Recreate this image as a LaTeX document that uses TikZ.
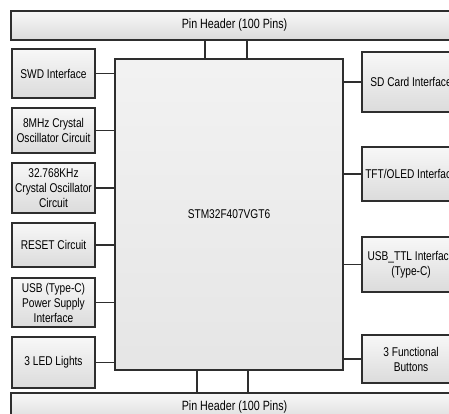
\documentclass[tikz,border=0pt]{standalone}
\usepackage{fontspec}
\setmainfont[FakeStretch=0.8]{Liberation Sans}
\usetikzlibrary{shadows}
\begin{document}
\begin{tikzpicture}[x=1pt, y=-1pt,
        block/.style={draw=black!82, line width=1.3pt, top color=white!97!black, bottom color=white!86!black,
            align=center, anchor=north west, inner sep=2pt, outer sep=0pt,
            font=\fontsize{12.7}{15}\selectfont,
            drop shadow={shadow xshift=0.8pt, shadow yshift=-0.8pt, opacity=0.35, fill=black}},
        wire/.style={draw=black!82, line width=1.2pt}]
        \useasboundingbox (0,0) rectangle (449,414);
        \fill[white] (0,0) rectangle (449,414);
        \clip (0,0) rectangle (449,414);

        % Nodes
        \node[block, minimum width=447, minimum height=29, font=\fontsize{13.4}{15}\selectfont] (toppins) at (11,11) {Pin Header (100 Pins)};
        \node[block, minimum width=447, minimum height=29, font=\fontsize{13.4}{15}\selectfont] (botpins) at (11,393) {Pin Header (100 Pins)};
        \node[block, minimum width=228, minimum height=311, top color=white!95!black, bottom color=white!90!black] (chip) at (115,59) {STM32F407VGT6};

        \node[block, minimum width=83, minimum height=49] (swd) at (12,49) {SWD Interface};
        \node[block, minimum width=83, minimum height=45] (xtal8) at (12,108) {8MHz Crystal\\Oscillator Circuit};
        \node[block, minimum width=83, minimum height=50] (xtal32) at (12,163) {32.768KHz\\Crystal Oscillator\\Circuit};
        \node[block, minimum width=83, minimum height=44] (reset) at (12,223) {RESET Circuit};
        \node[block, minimum width=83, minimum height=49] (usbpwr) at (12,278) {USB (Type-C)\\Power Supply\\Interface};
        \node[block, minimum width=83, minimum height=51] (leds) at (12,337) {3 LED Lights};

        \node[block, minimum width=98, minimum height=60] (sdcard) at (362,52) {SD Card Interface};
        \node[block, minimum width=98, minimum height=54] (tft) at (362,147) {TFT/OLED Interface};
        \node[block, minimum width=98, minimum height=55] (usbttl) at (362,237) {USB\_TTL Interface\\(Type-C)};
        \node[block, minimum width=98, minimum height=48] (keys) at (362,335) {3 Functional\\Buttons};

        % Edges
        \draw[wire] ([xshift=-24pt]chip.north) -- ([xshift=-24pt]chip.north |- toppins.south);
        \draw[wire] ([xshift=18pt]chip.north) -- ([xshift=18pt]chip.north |- toppins.south);
        \draw[wire] ([xshift=-32pt]chip.south) -- ([xshift=-32pt]chip.south |- botpins.north);
        \draw[wire] ([xshift=19pt]chip.south) -- ([xshift=19pt]chip.south |- botpins.north);
        \foreach \blk in {swd, xtal8, xtal32, reset, usbpwr, leds}
            \draw[wire] (\blk.east) -- (\blk.east -| chip.west);
        \foreach \blk in {sdcard, tft, usbttl, keys}
            \draw[wire] (\blk.west) -- (\blk.west -| chip.east);
    \end{tikzpicture}
\end{document}
